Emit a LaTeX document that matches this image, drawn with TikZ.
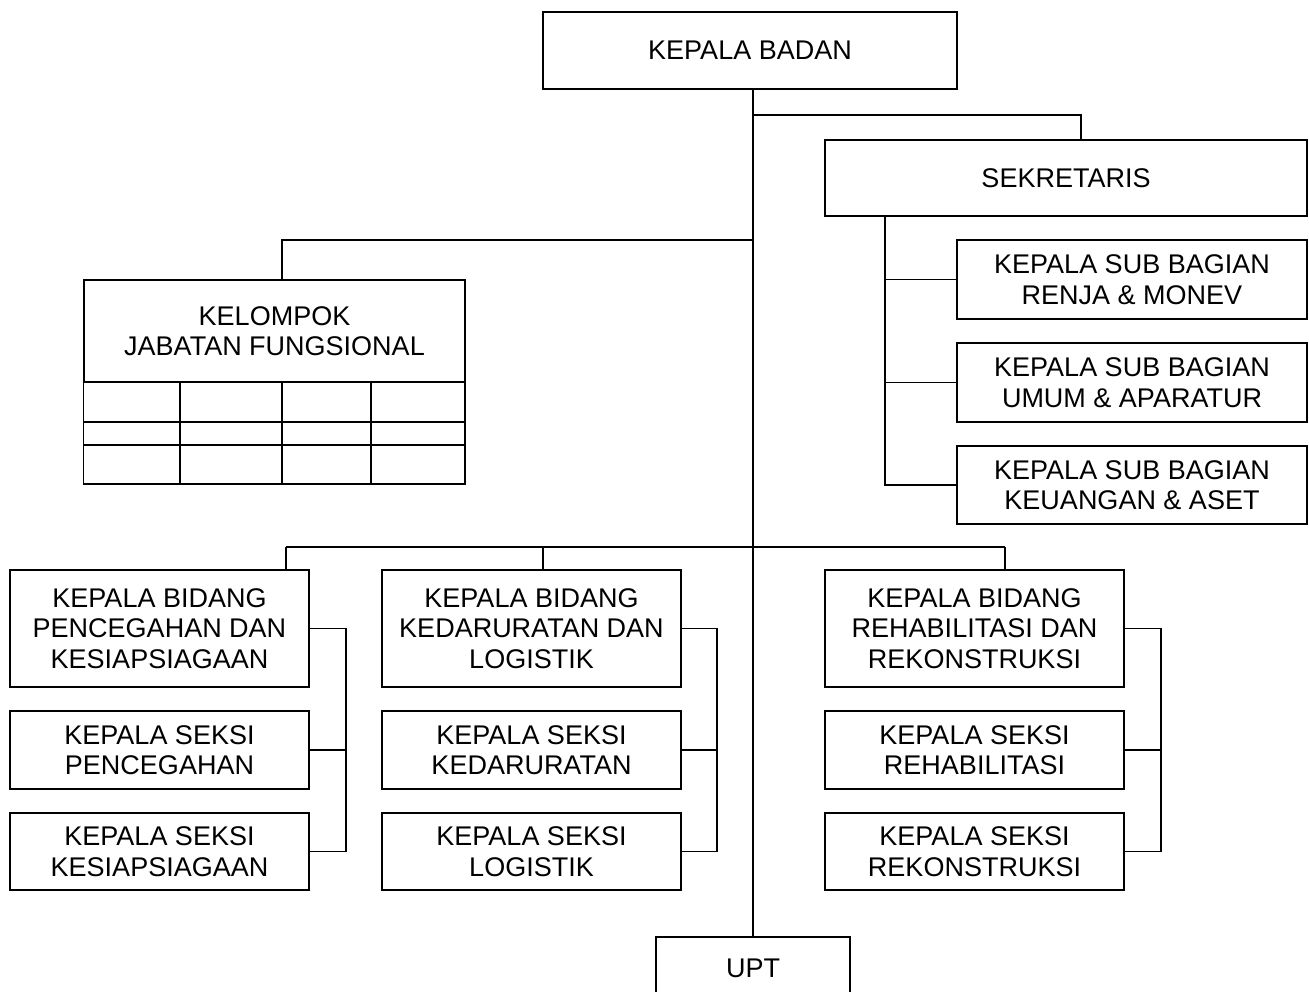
\documentclass[tikz,border=0pt]{standalone}
\usepackage{fontspec}
\setmainfont{Liberation Sans}
\begin{document}
\begin{tikzpicture}[x=1pt,y=-1pt,
  box/.style={draw, line width=1.3pt, inner sep=0pt, align=center, font=\fontsize{27}{30.5}\selectfont},
  ln/.style={line width=1.3pt}]
\useasboundingbox (0,0) rectangle (1309,992);
% top
\node[box, minimum width=414pt, minimum height=77pt] (kb) at (750,50.5) {KEPALA BADAN};
\node[box, minimum width=482pt, minimum height=76pt] (sek) at (1066,178) {SEKRETARIS};
\node[box, minimum width=350pt, minimum height=79pt] (sub1) at (1132,279.5) {KEPALA SUB BAGIAN\\RENJA \& MONEV};
\node[box, minimum width=350pt, minimum height=79pt] (sub2) at (1132,382.5) {KEPALA SUB BAGIAN\\UMUM \& APARATUR};
\node[box, minimum width=350pt, minimum height=78pt] (sub3) at (1132,485) {KEPALA SUB BAGIAN\\KEUANGAN \& ASET};
% kelompok
\node[box, minimum width=381pt, minimum height=102pt] (kel) at (274.5,331) {KELOMPOK\\JABATAN FUNGSIONAL};
\draw[ln] (kel.south west) rectangle (465,484);
\draw[ln] (84,422) -- (465,422) (84,445) -- (465,445);
\draw[ln] (180,382) -- (180,484) (282,382) -- (282,484) (371,382) -- (371,484);
% bidang
\node[box, minimum width=299pt, minimum height=117pt] (b1) at (159.5,628.5) {KEPALA BIDANG\\PENCEGAHAN DAN\\KESIAPSIAGAAN};
\node[box, minimum width=299pt, minimum height=78pt] (b1s1) at (159.5,750) {KEPALA SEKSI\\PENCEGAHAN};
\node[box, minimum width=299pt, minimum height=77pt] (b1s2) at (159.5,851.5) {KEPALA SEKSI\\KESIAPSIAGAAN};
\node[box, minimum width=299pt, minimum height=117pt] (b2) at (531.5,628.5) {KEPALA BIDANG\\KEDARURATAN DAN\\LOGISTIK};
\node[box, minimum width=299pt, minimum height=78pt] (b2s1) at (531.5,750) {KEPALA SEKSI\\KEDARURATAN};
\node[box, minimum width=299pt, minimum height=77pt] (b2s2) at (531.5,851.5) {KEPALA SEKSI\\LOGISTIK};
\node[box, minimum width=299pt, minimum height=117pt] (b3) at (974.5,628.5) {KEPALA BIDANG\\REHABILITASI DAN\\REKONSTRUKSI};
\node[box, minimum width=299pt, minimum height=78pt] (b3s1) at (974.5,750) {KEPALA SEKSI\\REHABILITASI};
\node[box, minimum width=299pt, minimum height=77pt] (b3s2) at (974.5,851.5) {KEPALA SEKSI\\REKONSTRUKSI};
% upt
\node[box, minimum width=194pt, minimum height=62pt] (upt) at (753,968) {UPT};
% connectors
\coordinate (tr) at (753,0);
\coordinate (j1) at (753,115);
\coordinate (j2) at (753,240);
\coordinate (j3) at (753,547);
\draw[ln] (kb.south -| tr) -- (upt.north);
\draw[ln] (j1) -| ([xshift=15pt]sek.north);
\draw[ln] (j2) -| (282,240) -- (kel.north -| 282,0);
\coordinate (sx) at (885,0);
\draw[ln] (sek.south -| sx) |- (sub3.west);
\draw[ln] (sub1.west -| sx) -- (sub1.west);
\draw[ln] (sub2.west -| sx) -- (sub2.west);
\coordinate (d1) at (286,547);
\coordinate (d2) at (543,547);
\coordinate (d3) at (1005,547);
\draw[ln] (d1) -- (d3);
\draw[ln] (d1) -- (d1 |- b1.north);
\draw[ln] (d2) -- (d2 |- b2.north);
\draw[ln] (d3) -- (d3 |- b3.north);
\coordinate (lb1) at (346,0);
\coordinate (lb2) at (717,0);
\coordinate (lb3) at (1161,0);
\draw[ln] (b1.east) -- (b1.east -| lb1) |- (b1s2.east);
\draw[ln] (b1s1.east) -- (b1s1.east -| lb1);
\draw[ln] (b2.east) -- (b2.east -| lb2) |- (b2s2.east);
\draw[ln] (b2s1.east) -- (b2s1.east -| lb2);
\draw[ln] (b3.east) -- (b3.east -| lb3) |- (b3s2.east);
\draw[ln] (b3s1.east) -- (b3s1.east -| lb3);
\end{tikzpicture}
\end{document}
